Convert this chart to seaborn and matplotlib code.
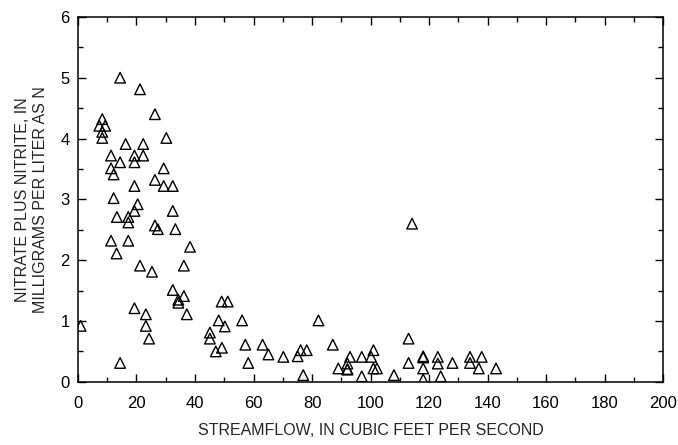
import matplotlib
matplotlib.use("Agg")
import matplotlib.pyplot as plt
import seaborn as sns
import pandas as pd
from matplotlib.ticker import MultipleLocator


# streamflow (cfs) and nitrate plus nitrite (mg/L as N)
streamflow = [
    0.9,
    7.3, 9.3, 8.3, 8.3, 8.3,
    11.3, 11.3, 12.2, 12.2, 11.3,
    13.3, 13.2, 14.4, 14.4, 14.4,
    16.3, 17.2, 17.2, 17.2,
    19.3, 19.3, 19.3, 19.3, 20.4, 19.3,
    21.2, 21.2, 22.3, 22.3,
    23.2, 23.2, 24.3, 25.3,
    26.3, 26.3, 26.3, 27.3,
    29.3, 29.3, 30.2,
    32.4, 32.4, 32.4, 33.3,
    34.3, 34.3, 36.2, 36.2, 37.2, 38.3,
    45.1, 45.1, 47.1, 48.1, 49.1, 49.2, 50.2, 51.2,
    56.1, 57.2, 58.2, 63.1, 65.1,
    70.2, 75.1, 76.1, 77.0, 78.2,
    82.2, 87.1, 89.0, 92.1, 92.1, 92.1, 93.0,
    97.0, 97.0, 100.2, 101.0, 101.0, 102.2,
    108.0, 113.0, 113.0, 114.2,
    118.0, 118.0, 118.0, 118.0,
    123.0, 123.0, 124.0, 128.0,
    134.0, 134.0, 137.0, 138.0, 142.9,
]
nitrate = [
    0.92,
    4.21, 4.21, 4.32, 4.11, 4.01,
    3.72, 3.51, 3.41, 3.02, 2.32,
    2.71, 2.11, 5.0, 3.61, 0.31,
    3.91, 2.71, 2.62, 2.32,
    3.72, 3.61, 3.22, 2.81, 2.92, 1.21,
    4.81, 1.91, 3.91, 3.72,
    1.11, 0.92, 0.71, 1.81,
    4.40, 3.32, 2.57, 2.51,
    3.51, 3.22, 4.01,
    3.22, 2.81, 1.51, 2.51,
    1.35, 1.30, 1.91, 1.41, 1.11, 2.22,
    0.81, 0.71, 0.50, 1.01, 1.32, 0.56, 0.91, 1.32,
    1.01, 0.61, 0.31, 0.61, 0.45,
    0.41, 0.42, 0.52, 0.11, 0.52,
    1.01, 0.61, 0.22, 0.30, 0.21, 0.20, 0.41,
    0.41, 0.09, 0.41, 0.52, 0.22, 0.22,
    0.11, 0.71, 0.31, 2.60,
    0.42, 0.40, 0.22, 0.04,
    0.41, 0.30, 0.09, 0.31,
    0.41, 0.31, 0.22, 0.41, 0.22,
]

df = pd.DataFrame({"streamflow": streamflow, "nitrate": nitrate})

sns.set_style("ticks")
plt.rcParams["font.family"] = ["Liberation Sans Narrow", "Liberation Sans", "DejaVu Sans"]

fig = plt.figure(figsize=(6.78, 4.45), dpi=100)
ax = fig.add_axes([0.115, 0.142, 0.863, 0.820])

sns.scatterplot(data=df, x="streamflow", y="nitrate", marker="^", s=58,
                facecolor="none", edgecolor="black", linewidth=1.0, ax=ax)

ax.set_xlim(0, 200)
ax.set_ylim(0, 6)
ax.xaxis.set_major_locator(MultipleLocator(20))
ax.xaxis.set_minor_locator(MultipleLocator(10))
ax.yaxis.set_major_locator(MultipleLocator(1))
ax.yaxis.set_minor_locator(MultipleLocator(0.5))
ax.tick_params(which="both", direction="in", top=True, right=True,
               width=1.0, labelsize=12, colors="black")
ax.tick_params(which="major", length=6)
ax.tick_params(which="minor", length=3.5)
ax.tick_params(axis="x", which="major", pad=10)
ax.tick_params(axis="y", which="major", pad=6)
for sp in ax.spines.values():
    sp.set_linewidth(1.1)
    sp.set_color("black")

ax.set_xlabel("STREAMFLOW, IN CUBIC FEET PER SECOND", fontsize=11.5, labelpad=9)
ax.set_ylabel("NITRATE PLUS NITRITE, IN\nMILLIGRAMS PER LITER AS N", fontsize=11.5,
              labelpad=9)

fig.savefig("out.png", dpi=100)
